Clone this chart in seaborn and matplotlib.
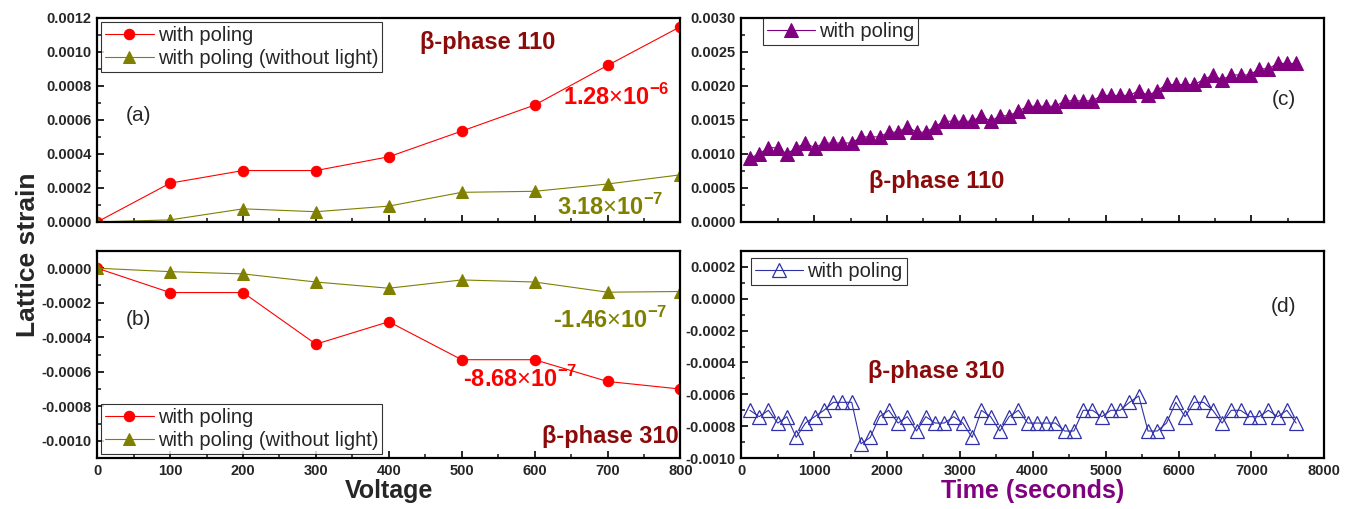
import numpy as np
import matplotlib
matplotlib.use("Agg")
import matplotlib.pyplot as plt
from matplotlib.ticker import MultipleLocator, FormatStrFormatter
import seaborn as sns

# ---------- DATA ----------
voltage = [0, 100, 200, 300, 400, 500, 600, 700, 800]

# (a) beta-phase 110 vs voltage
a_poling = [0.0, 0.000228, 0.000302, 0.000302, 0.000383, 0.000534, 0.000687, 0.000920, 0.001148]
a_nolight = [0.0, 0.000012, 0.000077, 0.000060, 0.000093, 0.000174, 0.000180, 0.000223, 0.000277]

# (b) beta-phase 310 vs voltage
b_poling = [0.0, -0.000141, -0.000141, -0.000440, -0.000310, -0.000530, -0.000530, -0.000656, -0.000700]
b_nolight = [0.0, -0.000020, -0.000033, -0.000080, -0.000116, -0.000068, -0.000080, -0.000139, -0.000135]

# time axis for (c) and (d), seconds
time_s = [120, 247, 374, 501, 628, 755, 882, 1009, 1136, 1263,
          1390, 1517, 1644, 1771, 1898, 2025, 2152, 2279, 2406, 2533,
          2660, 2787, 2914, 3041, 3168, 3295, 3422, 3549, 3676, 3803,
          3930, 4057, 4184, 4311, 4438, 4565, 4692, 4819, 4946, 5073,
          5200, 5327, 5454, 5581, 5708, 5835, 5962, 6089, 6216, 6343,
          6470, 6597, 6724, 6851, 6978, 7105, 7232, 7359, 7486, 7613]

# (c) beta-phase 110 vs time
c_poling = [0.00094, 0.00100, 0.00109, 0.00109, 0.00100, 0.00109, 0.00116, 0.00109, 0.00116, 0.00116,
            0.00116, 0.00116, 0.00125, 0.00125, 0.00125, 0.00132, 0.00132, 0.00140, 0.00132, 0.00132,
            0.00140, 0.00148, 0.00148, 0.00148, 0.00148, 0.00156, 0.00148, 0.00156, 0.00156, 0.00163,
            0.00170, 0.00170, 0.00170, 0.00170, 0.00178, 0.00178, 0.00178, 0.00178, 0.00186, 0.00186,
            0.00186, 0.00186, 0.00193, 0.00186, 0.00193, 0.00202, 0.00202, 0.00202, 0.00202, 0.00209,
            0.00216, 0.00209, 0.00216, 0.00216, 0.00216, 0.00225, 0.00225, 0.00233, 0.00233, 0.00233]

# (d) beta-phase 310 vs time
d_poling = [-0.00070, -0.00074, -0.00070, -0.00078, -0.00074, -0.00087, -0.00078, -0.00074, -0.00070, -0.00065,
            -0.00065, -0.00065, -0.00091, -0.00087, -0.00074, -0.00070, -0.00078, -0.00074, -0.00083, -0.00074,
            -0.00078, -0.00078, -0.00074, -0.00078, -0.00087, -0.00070, -0.00074, -0.00083, -0.00074, -0.00070,
            -0.00078, -0.00078, -0.00078, -0.00078, -0.00083, -0.00083, -0.00070, -0.00070, -0.00074, -0.00070,
            -0.00070, -0.00065, -0.00061, -0.00083, -0.00083, -0.00078, -0.00065, -0.00074, -0.00065, -0.00065,
            -0.00070, -0.00078, -0.00070, -0.00070, -0.00074, -0.00074, -0.00070, -0.00074, -0.00070, -0.00078]

RED = "#FF0000"
OLIVE = "#808000"
PURPLE = "#800080"
NAVY = "#3030A8"
DARKRED = "#8B0A0A"

# ---------- STYLE ----------
sns.set_theme(style="ticks")
plt.rcParams["font.family"] = ["Liberation Sans", "DejaVu Sans"]
plt.rcParams["mathtext.fontset"] = "custom"
plt.rcParams["mathtext.bf"] = "Liberation Sans:bold"
plt.rcParams["mathtext.rm"] = "Liberation Sans"

fig = plt.figure(figsize=(13.5, 5.09), dpi=100)
ax_a = fig.add_axes([0.072, 0.564, 0.432, 0.401])
ax_b = fig.add_axes([0.072, 0.100, 0.432, 0.407])
ax_c = fig.add_axes([0.549, 0.564, 0.432, 0.401])
ax_d = fig.add_axes([0.549, 0.100, 0.432, 0.407])


def style_axis(ax, xmaj, ymaj, show_x=True):
    for s in ax.spines.values():
        s.set_linewidth(1.6)
        s.set_color("black")
    ax.xaxis.set_major_locator(MultipleLocator(xmaj))
    ax.xaxis.set_minor_locator(MultipleLocator(xmaj / 2))
    ax.yaxis.set_major_locator(MultipleLocator(ymaj))
    ax.yaxis.set_minor_locator(MultipleLocator(ymaj / 2))
    ax.yaxis.set_major_formatter(FormatStrFormatter("%.4f"))
    ax.tick_params(which="major", direction="in", length=5, width=1.4,
                   labelsize=10.5, top=False, right=False, pad=4)
    ax.tick_params(which="minor", direction="in", length=3, width=1.2,
                   top=False, right=False)
    for lab in ax.get_xticklabels() + ax.get_yticklabels():
        lab.set_fontweight("bold")
    if not show_x:
        ax.tick_params(axis="x", labelbottom=False)
    ax.set_xlabel("")
    ax.set_ylabel("")


def legend(ax, loc, anchor):
    leg = ax.legend(loc=loc, bbox_to_anchor=anchor, frameon=True, fancybox=False,
                    fontsize=14.5, handlelength=2.4, borderpad=0.2, labelspacing=0.2,
                    handletextpad=0.2, borderaxespad=0.2)
    leg.get_frame().set_edgecolor("black")
    leg.get_frame().set_linewidth(0.8)


def note(ax, x, y, txt, color, size=17):
    ax.text(x, y, txt, transform=ax.transAxes, color=color, fontsize=size,
            fontweight="bold", ha="center", va="center")


# ---------- (a) ----------
sns.lineplot(x=voltage, y=a_poling, ax=ax_a, color=RED, marker="o", markersize=7.5,
             markeredgecolor=RED, linewidth=0.8, label="with poling")
sns.lineplot(x=voltage, y=a_nolight, ax=ax_a, color=OLIVE, marker="^", markersize=8,
             markeredgecolor=OLIVE, linewidth=0.8, label="with poling (without light)")
ax_a.set_xlim(0, 800)
ax_a.set_ylim(0, 0.0012)
style_axis(ax_a, 100, 0.0002, show_x=False)
legend(ax_a, "upper left", (0.0, 1.0))
note(ax_a, 0.67, 0.88, "β-phase 110", DARKRED)
note(ax_a, 0.89, 0.61, r"1.28$\times$10$^{\mathbf{-6}}$", RED)
note(ax_a, 0.88, 0.075, r"3.18$\times$10$^{\mathbf{-7}}$", OLIVE)
ax_a.text(0.07, 0.52, "(a)", transform=ax_a.transAxes, fontsize=15, ha="center", va="center")

# ---------- (b) ----------
sns.lineplot(x=voltage, y=b_poling, ax=ax_b, color=RED, marker="o", markersize=7.5,
             markeredgecolor=RED, linewidth=0.8, label="with poling")
sns.lineplot(x=voltage, y=b_nolight, ax=ax_b, color=OLIVE, marker="^", markersize=8,
             markeredgecolor=OLIVE, linewidth=0.8, label="with poling (without light)")
ax_b.set_xlim(0, 800)
ax_b.set_ylim(-0.0011, 0.0001)
style_axis(ax_b, 100, 0.0002)
legend(ax_b, "lower left", (0.0, 0.0))
ax_b.set_xlabel("Voltage", fontsize=18, fontweight="bold", labelpad=1)
note(ax_b, 0.88, 0.105, "β-phase 310", DARKRED)
note(ax_b, 0.725, 0.38, r"-8.68$\times$10$^{\mathbf{-7}}$", RED)
note(ax_b, 0.88, 0.665, r"-1.46$\times$10$^{\mathbf{-7}}$", OLIVE)
ax_b.text(0.07, 0.67, "(b)", transform=ax_b.transAxes, fontsize=15, ha="center", va="center")

fig.text(0.021, 0.5, "Lattice strain", rotation=90, fontsize=19, fontweight="bold",
         ha="center", va="center")

# ---------- (c) ----------
sns.lineplot(x=time_s, y=c_poling, ax=ax_c, color=PURPLE, marker="^", markersize=9.5,
             markeredgecolor=PURPLE, linewidth=0.8, label="with poling")
ax_c.set_xlim(0, 8000)
ax_c.set_ylim(0, 0.003)
style_axis(ax_c, 1000, 0.0005, show_x=False)
legend(ax_c, "upper left", (0.03, 1.02))
note(ax_c, 0.335, 0.2, "β-phase 110", DARKRED)
ax_c.text(0.93, 0.6, "(c)", transform=ax_c.transAxes, fontsize=15, ha="center", va="center")

# ---------- (d) ----------
sns.lineplot(x=time_s, y=d_poling, ax=ax_d, color=NAVY, marker="^", markersize=9.5,
             markerfacecolor="none", markeredgecolor=NAVY, markeredgewidth=0.9,
             linewidth=0.8, label="with poling")
ax_d.set_xlim(0, 8000)
ax_d.set_ylim(-0.001, 0.0003)
style_axis(ax_d, 1000, 0.0002)
legend(ax_d, "upper left", (0.01, 0.985))
ax_d.set_xlabel("Time (seconds)", fontsize=18, fontweight="bold", color=PURPLE, labelpad=1)
note(ax_d, 0.335, 0.42, "β-phase 310", DARKRED)
ax_d.text(0.93, 0.73, "(d)", transform=ax_d.transAxes, fontsize=15, ha="center", va="center")

fig.savefig("out.png", dpi=100)
